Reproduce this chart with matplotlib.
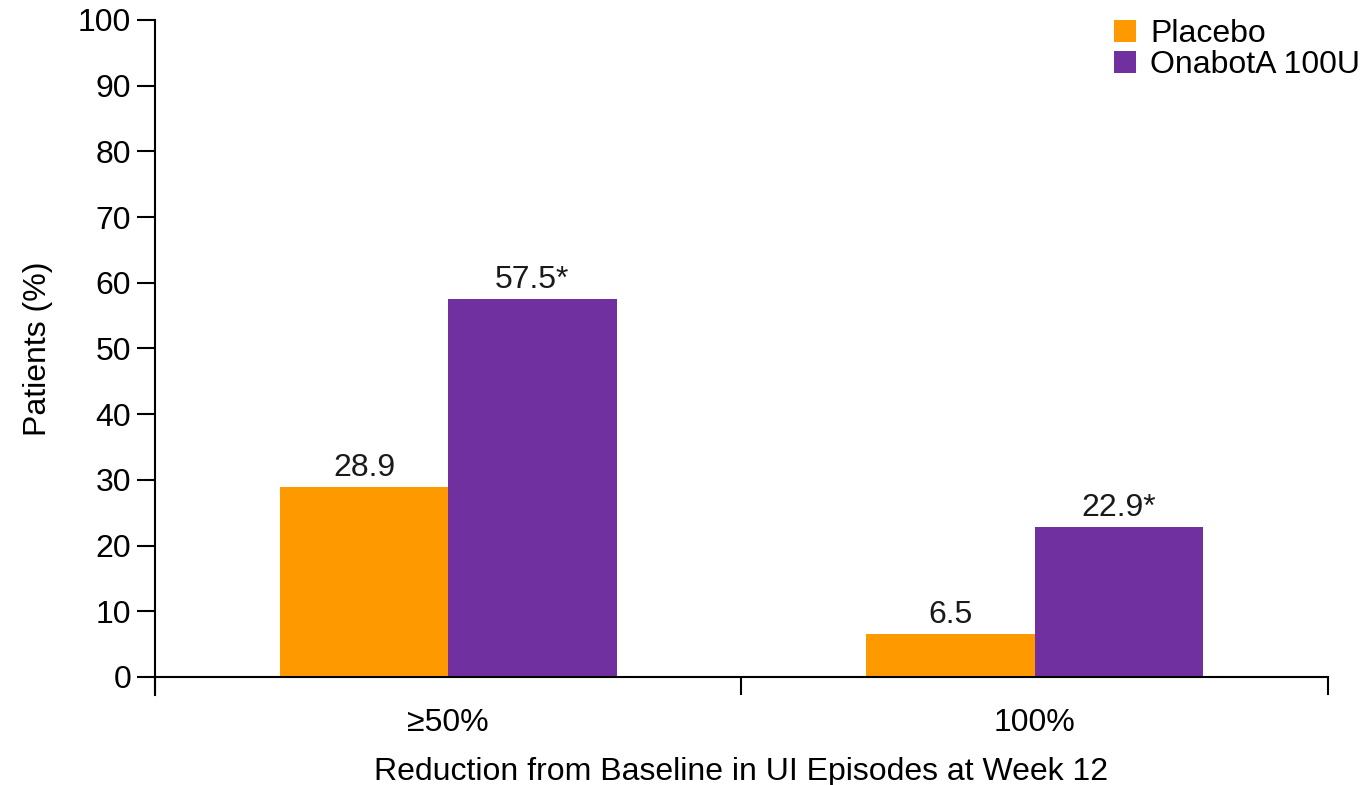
import matplotlib.pyplot as plt
import numpy as np

plt.rcParams['font.family'] = ['Liberation Sans', 'DejaVu Sans']

# data
categories = ["\u226550%", "100%"]
placebo = [28.9, 6.5]
onabot = [57.5, 22.9]
placebo_labels = ["28.9", "6.5"]
onabot_labels = ["57.5*", "22.9*"]
series_names = ["Placebo", "OnabotA 100U"]

orange = "#FF9900"
purple = "#7030A0"
fs = 23

fig = plt.figure(figsize=(13.64, 7.85), dpi=100)
ax = fig.add_axes([0.1136, 0.1376, 0.86, 0.837])

x = np.arange(len(categories))
w = 0.287
b1 = ax.bar(x - w / 2, placebo, w, color=orange, label=series_names[0])
b2 = ax.bar(x + w / 2, onabot, w, color=purple, label=series_names[1])

for bars, labels in [(b1, placebo_labels), (b2, onabot_labels)]:
    for rect, lab in zip(bars, labels):
        ax.text(rect.get_x() + rect.get_width() / 2, rect.get_height() + 0.6, lab,
                ha="center", va="bottom", fontsize=fs, color="#1a1a1a")

ax.set_xlim(-0.5, 1.5)
ax.set_ylim(0, 100)
ax.set_yticks(np.arange(0, 101, 10))
ax.set_xticks([-0.5, 0.5, 1.5])
ax.set_xticklabels([])
ax.set_xticks(x, minor=True)
ax.set_xticklabels(categories, minor=True)
ax.tick_params(axis="x", which="minor", length=0, pad=22, labelsize=fs)
ax.tick_params(axis="x", which="major", length=13, width=1.5, direction="out")
ax.tick_params(axis="y", length=13, width=1.5, direction="out", labelsize=fs, pad=4)

for s in ["top", "right"]:
    ax.spines[s].set_visible(False)
ax.spines["left"].set_linewidth(1.5)
ax.spines["bottom"].set_linewidth(1.5)
ax.spines["left"].set_bounds(-2.8, 100)

ax.set_ylabel("Patients (%)", fontsize=fs, labelpad=18)
ax.set_xlabel("Reduction from Baseline in UI Episodes at Week 12", fontsize=fs, labelpad=14)

ax.legend(loc="upper right", bbox_to_anchor=(1.052, 1.045), frameon=False, fontsize=fs,
          handlelength=0.68, handleheight=0.68, handletextpad=0.45, labelspacing=0.03)

fig.savefig("out.png", dpi=100)
